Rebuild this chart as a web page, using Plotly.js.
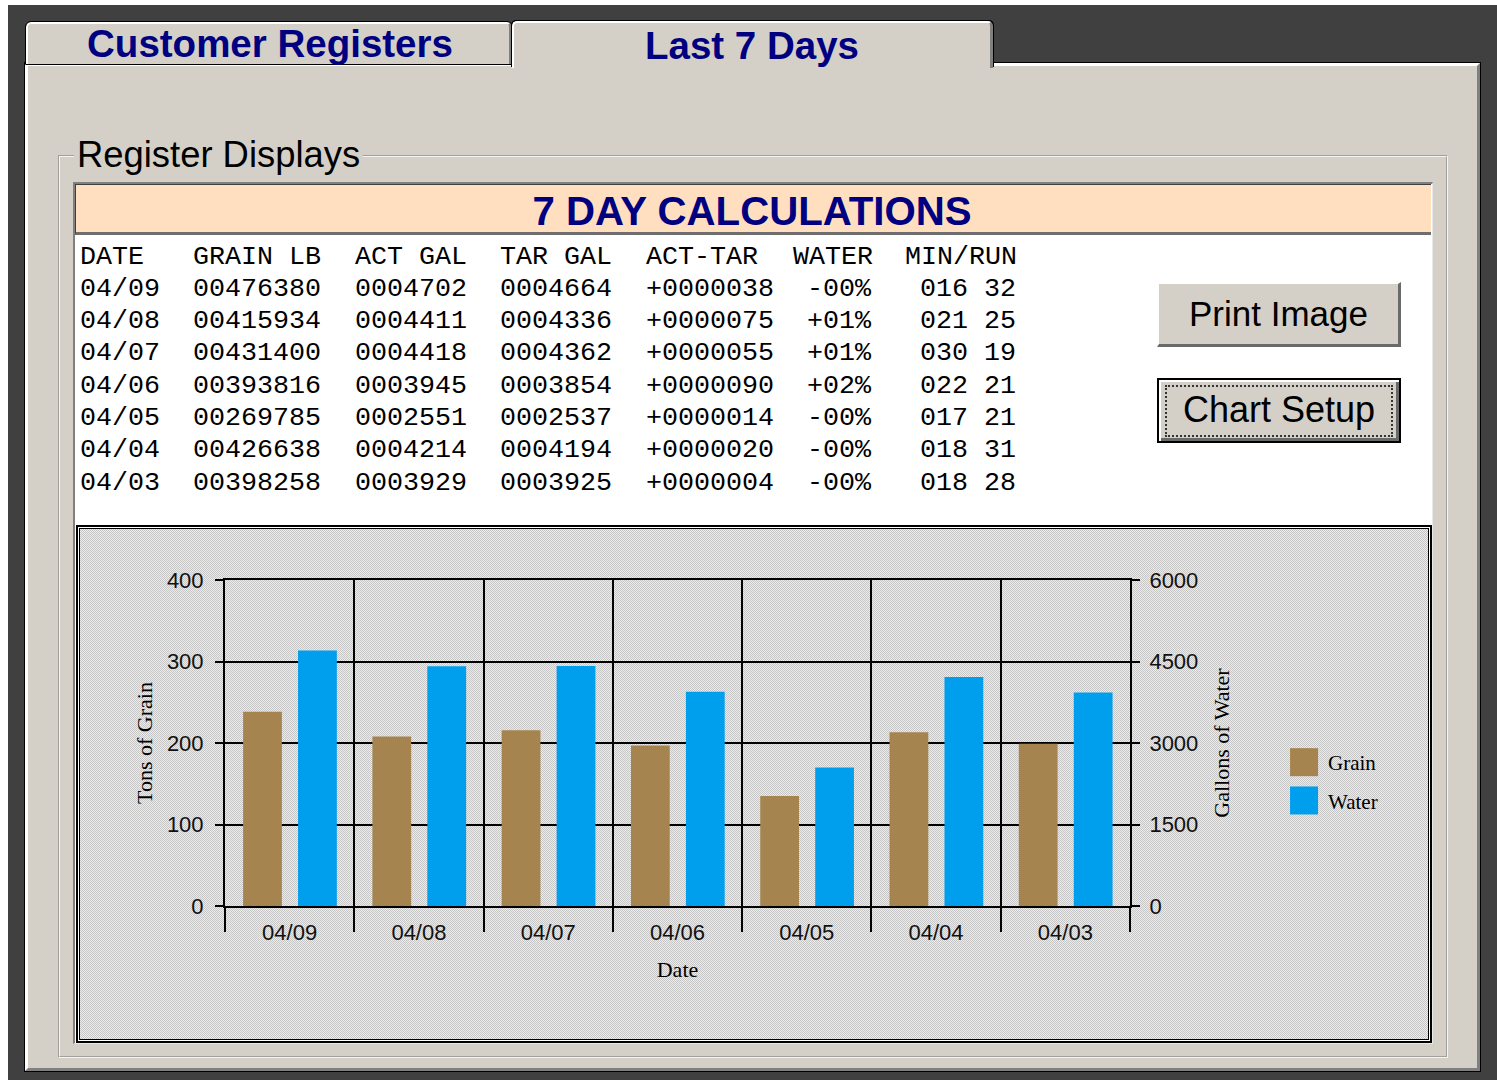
<!DOCTYPE html>
<html><head><meta charset="utf-8">
<script src="https://cdn.plot.ly/plotly-3.0.1.min.js"></script>
<style>
html,body{margin:0;padding:0;}
body{width:1497px;height:1080px;position:relative;overflow:hidden;background:#404040;font-family:"Liberation Sans",Arial,sans-serif;}
.abs{position:absolute;box-sizing:border-box;}
#topw{left:0;top:0;width:1497px;height:5px;background:#fff;}
#leftw{left:0;top:0;width:8px;height:1080px;background:#fff;}
#panel{left:25px;top:63px;width:1455px;height:1008px;background:#d4d0c8;border-top:3px solid #fff;border-left:3px solid #fff;border-right:3px solid #808080;border-bottom:3px solid #808080;outline:1px solid #000;}
.tab{background:#d4d0c8;border-top:2px solid #fff;border-left:2px solid #fff;border-right:3px solid #808080;border-top-left-radius:5px;border-top-right-radius:5px;outline:1px solid #000;}
#tab1{left:26px;top:22px;width:486px;height:42px;}
#tab2{left:512px;top:21px;width:481px;height:47px;z-index:2;outline:none;box-shadow:-1px -1px 0 #000,1px -1px 0 #000;}
.tabtxt{position:absolute;color:#000080;font-weight:bold;font-size:38.5px;line-height:38.5px;white-space:nowrap;transform:translateX(-50%);z-index:3;}
#group{left:58px;top:155px;width:1390px;height:903px;border:2px groove #f4f4f0;}
#grouplbl{position:absolute;left:74px;top:137px;font-size:36.4px;line-height:36.4px;padding:0 3px;background:#d4d0c8;color:#000;white-space:nowrap;}
#inner{left:73px;top:182px;width:1360px;height:862px;background:#fff;border-top:2px solid #808080;border-left:2px solid #808080;border-right:1px solid #e8e8e8;border-bottom:1px solid #e8e8e8;}
#head{left:75px;top:184px;width:1356px;height:51px;background:#ffdfc0;border-bottom:3px solid #6e6e6e;border-top:1px solid #404040;border-left:1px solid #404040;}
#headtxt{position:absolute;left:752px;top:192px;color:#000080;font-weight:bold;font-size:40.2px;line-height:40.2px;white-space:nowrap;transform:translateX(-50%);}
.cell{position:absolute;font-family:"Liberation Mono","Courier New",monospace;font-size:26.7px;line-height:26.7px;color:#000;white-space:pre;}
.btn{position:absolute;left:1157px;width:244px;height:65px;background:#d4d0c8;box-sizing:border-box;display:flex;align-items:center;justify-content:center;font-size:35px;color:#000;}
#btn1{top:282px;border-top:2px solid #fff;border-left:2px solid #fff;border-right:3px solid #6a6a6a;border-bottom:3px solid #6a6a6a;}
#btn2{top:378px;border:2px solid #000;box-shadow:inset 2px 2px 0 #fff,inset -3px -3px 0 #6a6a6a;font-size:36px;}
#btn2 span{border:2px dotted #333;padding:2px 16px 4px 16px;}
#chartbox{left:76px;top:525px;width:1356px;height:518px;border:2px solid #000;box-shadow:inset 0 0 0 1px #fff,inset 0 0 0 2px #000;
  background:repeating-conic-gradient(#c6c6c6 0% 25%, #ececec 0% 50%) 0 0/2px 2px;}
#chart{position:absolute;left:0;top:0;width:1352px;height:514px;}
</style></head>
<body>
<div class="abs" id="topw"></div>
<div class="abs" id="leftw"></div>
<div class="abs" id="panel"></div>
<div class="abs tab" id="tab1"></div>
<div class="abs tab" id="tab2"></div>
<div class="tabtxt" style="left:270px;top:25px;">Customer Registers</div>
<div class="tabtxt" style="left:752px;top:27px;">Last 7 Days</div>
<div class="abs" id="group"></div>
<div id="grouplbl">Register Displays</div>
<div class="abs" id="inner"></div>
<div class="abs" id="head"></div>
<div id="headtxt">7 DAY CALCULATIONS</div>
<div id="table"></div>
<div class="btn" id="btn1">Print Image</div>
<div class="btn" id="btn2"><span>Chart Setup</span></div>
<div class="abs" id="chartbox"><div id="chart"></div></div>
<script>
// ---- data ----
const headers   = ['DATE','GRAIN LB','ACT GAL','TAR GAL','ACT-TAR','WATER','MIN/RUN'];
const dates     = ['04/09','04/08','04/07','04/06','04/05','04/04','04/03'];
const grainLb   = ['00476380','00415934','00431400','00393816','00269785','00426638','00398258'];
const actGal    = ['0004702','0004411','0004418','0003945','0002551','0004214','0003929'];
const tarGal    = ['0004664','0004336','0004362','0003854','0002537','0004194','0003925'];
const actTar    = ['+0000038','+0000075','+0000055','+0000090','+0000014','+0000020','+0000004'];
const waterPct  = ['-00%','+01%','+01%','+02%','-00%','-00%','-00%'];
const minRun    = ['016 32','021 25','030 19','022 21','017 21','018 31','018 28'];
// chart series
const grainTons = [238.2, 208.0, 215.7, 196.9, 134.9, 213.3, 199.1];
const waterGal  = [4702, 4411, 4418, 3945, 2551, 4214, 3929];
const leftTicks  = [0,100,200,300,400];
const rightTicks = [0,1500,3000,4500,6000];

// ---- table ----
const headX = [80,193,355,500,646,793,905];
const dataX = [80,193,355,500,646,807,920];
const cols = [dates,grainLb,actGal,tarGal,actTar,waterPct,minRun];
const rowBase0 = 264, rowStep = 32.3, fs = 26.7;
let html = '';
headers.forEach((h,i)=>{ html += `<div class="cell" style="left:${headX[i]}px;top:${(rowBase0-0.7665*fs).toFixed(1)}px">${h}</div>`; });
dates.forEach((d,r)=>{
  const top = rowBase0 + (r+1)*rowStep - 0.7665*fs;
  cols.forEach((c,i)=>{ html += `<div class="cell" style="left:${dataX[i]}px;top:${top.toFixed(1)}px">${c[r]}</div>`; });
});
document.getElementById('table').innerHTML = html;

// ---- chart ----
const sans = '"Liberation Sans", Arial, sans-serif';
const serif = '"Liberation Serif", "Times New Roman", serif';
const traces = [
  {type:'bar', name:'Grain', x:dates, y:grainTons, yaxis:'y', marker:{color:'#a6844f'},
   offset:-0.36, width:0.30, legendgroup:'g'},
  {type:'bar', name:'Water', x:dates, y:waterGal, yaxis:'y2', marker:{color:'#009fee'},
   offset:0.065, width:0.30, legendgroup:'w'}
];
const axisCommon = {ticks:'outside', tickcolor:'#000', tickwidth:2, linecolor:'#000', linewidth:2,
  showline:true, tickfont:{family:sans, size:22, color:'#111'}, fixedrange:true};
const titleFont = {family:serif, size:22, color:'#000'};
const layout = {
  width:1352, height:514,
  margin:{l:147, r:300, t:53, b:135, pad:0},
  paper_bgcolor:'rgba(0,0,0,0)', plot_bgcolor:'rgba(0,0,0,0)',
  barmode:'overlay',
  showlegend:true,
  legend:{x:1.1658, y:0.503, xanchor:'left', yanchor:'top', bgcolor:'rgba(0,0,0,0)',
    font:{family:serif, size:21, color:'#000'}, itemwidth:38, tracegroupgap:8, traceorder:'grouped'},
  xaxis:Object.assign({}, axisCommon, {type:'category', tickson:'boundaries', ticklen:24,
    showgrid:true, gridcolor:'#000', gridwidth:2, mirror:true, ticklabelstandoff:6,
    title:{text:'Date', font:titleFont, standoff:17}, automargin:true}),
  yaxis:Object.assign({}, axisCommon, {range:[0,400], tickvals:leftTicks, ticklen:8,
    showgrid:true, gridcolor:'#000', gridwidth:2, zeroline:false, ticklabelstandoff:7,
    title:{text:'Tons of Grain', font:titleFont, standoff:8}, automargin:true}),
  yaxis2:Object.assign({}, axisCommon, {range:[0,6000], tickvals:rightTicks, ticklen:8,
    overlaying:'y', side:'right', showgrid:false, zeroline:false, ticklabelstandoff:5,
    title:{text:'Gallons of Water', font:titleFont, standoff:16}, automargin:true})
};
Plotly.newPlot('chart', traces, layout, {displayModeBar:false, staticPlot:true}).then(()=>{
  document.querySelectorAll('#chart .legendpoints path').forEach(p=>p.setAttribute('d','M14,14H-14V-14H14Z'));
});
</script>
</body></html>
